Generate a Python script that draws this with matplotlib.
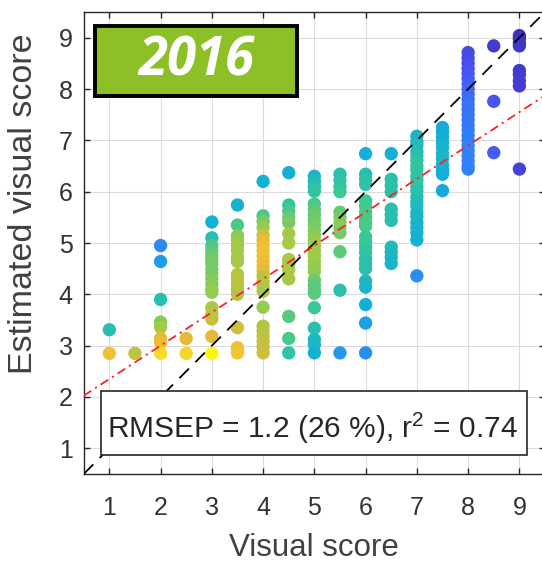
import numpy as np
import matplotlib
matplotlib.use("Agg")
import matplotlib.pyplot as plt
from matplotlib.colors import LinearSegmentedColormap
from matplotlib.patches import Rectangle

# ---- data -------------------------------------------------------------
VISUAL_SCORES = [1, 1.5, 2, 2.5, 3, 3.5, 4, 4.5, 5, 5.5, 6, 6.5, 7, 7.5, 8, 8.5, 9]

ESTIMATED = [
    [2.85, 3.31],
    [2.85],
    [4.95, 4.64, 3.90, 3.46, 3.36, 3.14, 3.06, 2.85],
    [3.14, 2.85],
    [5.41, 5.10, 4.95, 4.86, 4.77, 4.68, 4.60, 4.50, 4.40, 4.30, 4.20, 4.10,
     4.04, 3.74, 3.62, 3.52, 3.18, 2.85],
    [5.74, 5.35, 5.14, 5.05, 4.95, 4.85, 4.72, 4.64, 4.39, 4.30, 4.20, 4.10,
     4.00, 3.35, 2.96, 2.86],
    [6.20, 5.53, 5.42, 5.30, 5.15, 5.05, 4.95, 4.85, 4.75, 4.65, 4.55, 4.45,
     4.35, 4.25, 4.15, 4.06, 3.75, 3.38, 3.28, 3.18, 3.08, 2.98, 2.86],
    [6.37, 5.74, 5.62, 5.50, 5.40, 5.18, 5.00, 4.68, 4.58, 4.48, 4.30, 3.57,
     3.14, 2.86],
    [6.30, 6.20, 6.10, 6.01, 5.76, 5.65, 5.55, 5.45, 5.35, 5.25, 5.15, 5.05,
     4.95, 4.85, 4.75, 4.65, 4.55, 4.45, 4.28, 4.18, 4.08, 4.02, 3.74, 3.34,
     3.12, 3.02, 2.86],
    [6.34, 6.22, 6.10, 6.00, 5.60, 5.50, 5.40, 5.30, 5.20, 4.83, 4.08, 2.86],
    [6.74, 6.34, 6.24, 6.14, 5.82, 5.72, 5.60, 5.50, 5.40, 5.33, 5.12, 5.02,
     4.92, 4.82, 4.70, 4.60, 4.50, 4.26, 4.14, 3.80, 3.44, 2.86],
    [6.74, 6.24, 6.12, 6.00, 5.66, 5.55, 5.44, 4.92, 4.82, 4.72, 4.60],
    [7.08, 6.97, 6.90, 6.78, 6.70, 6.61, 6.50, 6.42, 6.30, 6.22, 6.10, 6.02,
     5.90, 5.80, 5.72, 5.60, 5.52, 5.40, 5.30, 5.20, 5.06, 4.36],
    [7.25, 7.16, 7.06, 6.96, 6.86, 6.74, 6.64, 6.52, 6.42, 6.34, 6.02],
    [8.71, 8.60, 8.50, 8.40, 8.30, 8.20, 8.10, 8.00, 7.90, 7.80, 7.70, 7.60,
     7.50, 7.40, 7.30, 7.20, 7.10, 7.00, 6.90, 6.80, 6.70, 6.60, 6.50, 6.44],
    [8.84, 7.76, 6.76],
    [9.04, 8.98, 8.90, 8.84, 8.36, 8.28, 8.16, 8.06, 6.44],
]

# relative point density (0 = sparse, 1 = densest)
DENSITY = [
    [0.78, 0.45],
    [0.68],
    [0.25, 0.32, 0.45, 0.60, 0.64, 0.74, 0.76, 0.88],
    [0.74, 0.85],
    [0.38, 0.46, 0.52, 0.54, 0.56, 0.57, 0.58, 0.58, 0.58, 0.59, 0.60, 0.61,
     0.62, 0.65, 0.67, 0.68, 0.74, 0.98],
    [0.38, 0.52, 0.60, 0.62, 0.63, 0.64, 0.64, 0.64, 0.66, 0.67, 0.67, 0.67,
     0.66, 0.70, 0.78, 0.80],
    [0.38, 0.52, 0.58, 0.62, 0.70, 0.75, 0.77, 0.78, 0.78, 0.77, 0.76, 0.74,
     0.68, 0.67, 0.66, 0.65, 0.62, 0.66, 0.67, 0.68, 0.68, 0.69, 0.70],
    [0.38, 0.48, 0.52, 0.56, 0.58, 0.63, 0.64, 0.65, 0.65, 0.65, 0.64, 0.54,
     0.52, 0.47],
    [0.40, 0.43, 0.46, 0.48, 0.52, 0.54, 0.56, 0.57, 0.58, 0.59, 0.60, 0.62,
     0.63, 0.63, 0.63, 0.63, 0.62, 0.61, 0.56, 0.55, 0.54, 0.54, 0.50, 0.45,
     0.42, 0.41, 0.38],
    [0.46, 0.47, 0.48, 0.50, 0.56, 0.58, 0.60, 0.60, 0.58, 0.55, 0.46, 0.30],
    [0.37, 0.45, 0.46, 0.47, 0.50, 0.51, 0.52, 0.52, 0.52, 0.52, 0.50, 0.50,
     0.49, 0.48, 0.47, 0.46, 0.46, 0.42, 0.41, 0.37, 0.32, 0.27],
    [0.37, 0.46, 0.46, 0.46, 0.46, 0.46, 0.45, 0.43, 0.42, 0.41, 0.40],
    [0.40, 0.41, 0.43, 0.44, 0.46, 0.47, 0.48, 0.48, 0.48, 0.47, 0.47, 0.46,
     0.45, 0.44, 0.43, 0.42, 0.41, 0.40, 0.39, 0.39, 0.38, 0.27],
    [0.35, 0.36, 0.37, 0.38, 0.39, 0.40, 0.40, 0.39, 0.38, 0.37, 0.35],
    [0.10, 0.10, 0.11, 0.12, 0.13, 0.14, 0.16, 0.17, 0.18, 0.19, 0.20, 0.20,
     0.21, 0.21, 0.22, 0.22, 0.23, 0.23, 0.24, 0.24, 0.24, 0.24, 0.24, 0.24],
    [0.06, 0.13, 0.15],
    [0.03, 0.03, 0.04, 0.05, 0.06, 0.06, 0.07, 0.07, 0.08],
]

FIT_INTERCEPT = 1.70
FIT_SLOPE = 0.65
STATS_TEXT = r"RMSEP = 1.2 (26 %), r$^\mathregular{2}$ = 0.74"
YEAR = "2016"
TICKS = list(range(1, 10))

# ---- styling ----------------------------------------------------------
plt.rcParams["font.family"] = ["Liberation Sans", "DejaVu Sans"]
plt.rcParams["mathtext.fontset"] = "custom"
plt.rcParams["mathtext.rm"] = "Liberation Sans"

parula = LinearSegmentedColormap.from_list("parula", [
    (0.000, (0.2422, 0.1504, 0.6603)),
    (0.125, (0.2810, 0.3228, 0.9579)),
    (0.250, (0.1786, 0.5289, 0.9682)),
    (0.375, (0.0689, 0.6948, 0.8394)),
    (0.500, (0.2161, 0.7843, 0.5923)),
    (0.625, (0.6065, 0.7989, 0.2877)),
    (0.750, (0.9264, 0.7256, 0.2128)),
    (0.875, (0.9750, 0.8600, 0.1600)),
    (1.000, (0.9763, 0.9831, 0.0538)),
])

W, H = 542, 565
fig = plt.figure(figsize=(W / 100, H / 100), dpi=100)

def px_box(x0, y0, x1, y1):
    """Figure-fraction rectangle from pixel corners (origin top-left)."""
    return [x0 / W, 1 - y1 / H, (x1 - x0) / W, (y1 - y0) / H]

ax = fig.add_axes(px_box(83.7, 12.0, 545.0, 474.0))
ax.set_xlim(0.5, 9.5)
ax.set_ylim(0.5, 9.5)

xs = np.concatenate([[v] * len(e) for v, e in zip(VISUAL_SCORES, ESTIMATED)])
ys = np.concatenate(ESTIMATED)
cs = np.concatenate(DENSITY)
ax.scatter(xs, ys, c=cs, cmap=parula, vmin=0, vmax=1, s=92,
           edgecolors="none", zorder=3)

line_x = np.array([0.5, 9.5])
ax.plot(line_x, line_x, color="black", lw=1.3, ls=(0, (7.5, 5)), zorder=4)
ax.plot(line_x, FIT_INTERCEPT + FIT_SLOPE * line_x, color="#ff2020", lw=1.3,
        ls=(0, (5, 2.5, 1.2, 2.5)), zorder=4)

ax.set_xticks(TICKS)
ax.set_yticks(TICKS)
ax.grid(True, color="#dcdcdc", lw=0.8, zorder=0)
ax.set_axisbelow(True)
ax.tick_params(direction="in", length=4, width=1.0, color="#262626",
               labelsize=18, labelcolor="#333333", top=True, right=True)
ax.tick_params(axis="x", pad=16)
ax.tick_params(axis="y", pad=8)
for sp in ax.spines.values():
    sp.set_color("#262626")
    sp.set_linewidth(1.0)

ax.set_xlabel("Visual score", fontsize=22.5, color="#404040")
ax.xaxis.set_label_coords(0.5, -(548 - 474) / 462, transform=ax.transAxes)
ax.xaxis.label.set_va("center")
ax.set_ylabel("Estimated visual score", fontsize=24.5, color="#404040")
ax.yaxis.set_label_coords(-(83.7 - 24) / 461.3, (474 - 204) / 462)
ax.yaxis.label.set_va("center")

# statistics box
stats_rect = Rectangle((100.7 / W, 1 - 455 / H), (526.7 - 100.7) / W,
                       (455 - 390.7) / H, transform=fig.transFigure,
                       facecolor="white", edgecolor="#262626", lw=1.2,
                       zorder=10)
fig.add_artist(stats_rect)
fig.text(312 / W, 1 - 438.5 / H, STATS_TEXT, ha="center", va="baseline",
         fontsize=21.5, color="#262626", zorder=11)

# year badge
year_rect = Rectangle((95 / W, 1 - 96 / H), (297 - 95) / W, (96 - 26) / H,
                      transform=fig.transFigure, facecolor="#8dbf26",
                      edgecolor="black", lw=2.8, zorder=10)
fig.add_artist(year_rect)
fig.text(196 / W, 1 - 61.5 / H, YEAR, ha="center", va="center",
         fontsize=38, color="white", fontweight="bold", fontstyle="italic",
         family=["Open Sans", "Lato", "DejaVu Sans"], zorder=11)

fig.savefig("out.png", dpi=100)
